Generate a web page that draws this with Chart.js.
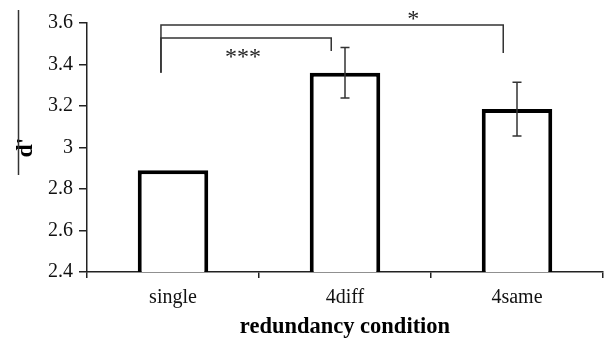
<!DOCTYPE html>
<html>
<head>
<meta charset="utf-8">
<script src="https://cdn.jsdelivr.net/npm/chart.js@4/dist/chart.umd.min.js"></script>
<style>
  html, body { margin: 0; padding: 0; background: #fff; }
  #wrap { width: 611px; height: 338px; position: relative; }
</style>
</head>
<body>
<div id="wrap"><canvas id="chart"></canvas></div>
<script>
// data
const categories = ['single', '4diff', '4same'];
const dPrime = [2.89, 3.36, 3.185];
const errors = [0, 0.122, 0.13];
const yTicks = [2.4, 2.6, 2.8, 3, 3.2, 3.4, 3.6];

// significance brackets: from category, to category, levels, stars
const bracketFrom = [-0.07, -0.07];
const bracketTo = [0.92, 1.92];
const bracketTop = [3.528, 3.59];
const bracketLeftEnd = [3.36, 3.36];
const bracketRightEnd = [3.465, 3.455];
const bracketStars = ['***', '*'];

const serif = '"Liberation Serif", "Times New Roman", serif';

// error bars drawn on top of the bars
const errorBars = {
  id: 'errorBars',
  afterDatasetsDraw(chart) {
    const ctx = chart.ctx;
    const y = chart.scales.y;
    const meta = chart.getDatasetMeta(0);
    ctx.save();
    ctx.strokeStyle = '#333';
    ctx.lineWidth = 1.5;
    meta.data.forEach((bar, i) => {
      if (!errors[i]) return;
      const top = y.getPixelForValue(dPrime[i] + errors[i]);
      const bot = y.getPixelForValue(dPrime[i] - errors[i]);
      ctx.beginPath();
      ctx.moveTo(bar.x, top); ctx.lineTo(bar.x, bot);
      ctx.moveTo(bar.x - 4.5, top); ctx.lineTo(bar.x + 4.5, top);
      ctx.moveTo(bar.x - 4.5, bot); ctx.lineTo(bar.x + 4.5, bot);
      ctx.stroke();
    });
    ctx.restore();
  }
};

// brackets with stars plus the odd line left of the y title
const brackets = {
  id: 'brackets',
  afterDraw(chart) {
    const ctx = chart.ctx;
    const x = chart.scales.x;
    const y = chart.scales.y;
    const step = x.getPixelForValue(1) - x.getPixelForValue(0);
    const px = v => x.getPixelForValue(0) + v * step;
    ctx.save();
    ctx.strokeStyle = '#333';
    ctx.lineWidth = 1.5;
    ctx.fillStyle = '#222';
    ctx.font = '24px ' + serif;
    ctx.textAlign = 'center';
    for (let i = 0; i < bracketFrom.length; i++) {
      const x1 = px(bracketFrom[i]);
      const x2 = px(bracketTo[i]);
      const yt = y.getPixelForValue(bracketTop[i]);
      ctx.beginPath();
      ctx.moveTo(x1, y.getPixelForValue(bracketLeftEnd[i]));
      ctx.lineTo(x1, yt);
      ctx.lineTo(x2, yt);
      ctx.lineTo(x2, y.getPixelForValue(bracketRightEnd[i]));
      ctx.stroke();
    }
    // stars
    ctx.fillText(bracketStars[0], (px(bracketFrom[0]) + px(bracketTo[0])) / 2 - 3, y.getPixelForValue(bracketTop[0]) + 26);
    ctx.fillText(bracketStars[1], px(bracketTo[1]) - 90, y.getPixelForValue(bracketTop[1]) + 0.5);
    // vertical line next to d'
    ctx.beginPath();
    ctx.moveTo(18.5, 10);
    ctx.lineTo(18.5, 175);
    ctx.stroke();
    ctx.restore();
  }
};

new Chart(document.getElementById('chart'), {
  type: 'bar',
  data: {
    labels: categories,
    datasets: [{
      data: dPrime,
      backgroundColor: '#fff',
      borderColor: '#000',
      borderWidth: 4,
      categoryPercentage: 1,
      barPercentage: 0.41
    }]
  },
  options: {
    responsive: true,
    maintainAspectRatio: false,
    animation: false,
    layout: { padding: { top: 23, right: 8, left: 0, bottom: 0 } },
    plugins: { legend: { display: false }, tooltip: { enabled: false } },
    scales: {
      y: {
        min: 2.4,
        max: 3.6,
        afterBuildTicks: s => { s.ticks = yTicks.map(v => ({ value: v })); },
        afterFit: s => { s.width = 87; },
        ticks: {
          color: '#111',
          font: { family: serif, size: 20 },
          padding: 6,
          callback: v => String(Math.round(v * 10) / 10)
        },
        grid: { drawOnChartArea: false, tickLength: 8, color: '#222', lineWidth: 1.5 },
        border: { color: '#222', width: 1.5 },
        title: {
          display: true, text: "d'", color: '#000',
          font: { family: serif, size: 24, weight: 'bold', lineHeight: 1 },
          padding: { top: 14, bottom: 0 }
        }
      },
      x: {
        afterFit: s => { s.height = 66; },
        ticks: { color: '#111', font: { family: serif, size: 20 }, padding: 8 },
        grid: { offset: true, drawOnChartArea: false, tickLength: 6, color: '#222', lineWidth: 1.5 },
        border: { color: '#222', width: 1.5 },
        title: {
          display: true, text: 'redundancy condition', color: '#000',
          font: { family: serif, size: 22.5, weight: 'bold', lineHeight: 1 },
          padding: { top: 0, bottom: 0 }
        }
      }
    }
  },
  plugins: [errorBars, brackets]
});
</script>
</body>
</html>
